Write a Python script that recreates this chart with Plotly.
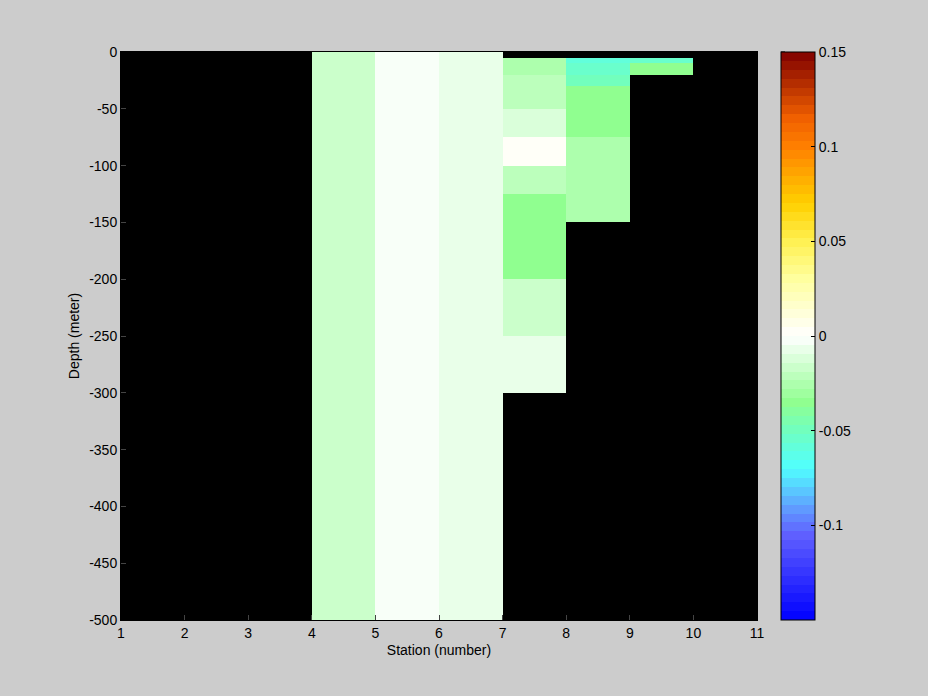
import numpy as np
import plotly.graph_objects as go

# Station edges (x) and depth edges (y, meters)
station_edges = [1, 2, 3, 4, 5, 6, 7, 8, 9, 10, 11]
depth_edges = [0, -5, -10, -20, -30, -50, -75, -100, -125, -150, -200, -250, -300, -400, -500]

N = None
# Values per station column (cells between consecutive station edges), top to bottom
col_1_2 = [N] * 14
col_2_3 = [N] * 14
col_3_4 = [N] * 14
col_4_5 = [-0.015] * 14
col_5_6 = [-0.003] * 14
col_6_7 = [-0.0068] * 14
col_7_8 = [N, -0.028, -0.025, -0.02, -0.02, -0.011, 0.003, -0.02, -0.034, -0.034, -0.015, -0.006, N, N]
col_8_9 = [N, -0.059, -0.054, -0.048, -0.037, -0.037, -0.024, -0.024, -0.024, N, N, N, N, N]
col_9_10 = [N, -0.052, -0.037, N, N, N, N, N, N, N, N, N, N, N]
col_10_11 = [N] * 14

columns = [col_1_2, col_2_3, col_3_4, col_4_5, col_5_6, col_6_7, col_7_8, col_8_9, col_9_10, col_10_11]

depth_ticks = list(range(-500, 1, 50))
depth_ticktext = [str(v) for v in depth_ticks]
station_ticktext = [str(v) for v in station_edges]
cbar_ticks = [-0.1, -0.05, 0, 0.05, 0.1, 0.15]
cbar_ticktext = ["-0.1", "-0.05", "0", "0.05", "0.1", "0.15"]
zmin, zmax = -0.15, 0.15

z = np.array([[np.nan if v is None else v for v in col] for col in columns], dtype=float).T

# Colormap anchors (normalized position, hex)
anchors = [
    (0.0, "#0000ff"), (0.15, "#6060ff"), (0.20, "#60a0ff"), (0.267, "#50ffff"),
    (0.333, "#70ffc0"), (0.383, "#90ff90"), (0.5, "#ffffff"), (0.6, "#ffffa0"),
    (0.667, "#fff050"), (0.733, "#ffd000"), (0.833, "#ff8000"), (0.883, "#f06000"),
    (1.0, "#800000"),
]

def hex2rgb(h):
    h = h.lstrip("#")
    return [int(h[i:i + 2], 16) for i in (0, 2, 4)]

pos = [a[0] for a in anchors]
rgbs = np.array([hex2rgb(a[1]) for a in anchors], dtype=float)

def cmap(t):
    return [float(np.interp(t, pos, rgbs[:, k])) for k in range(3)]

n = 64
colorscale = []
for i in range(n):
    r, g, b = cmap((i + 0.5) / n)
    c = f"rgb({round(r)},{round(g)},{round(b)})"
    colorscale.append([i / n, c])
    colorscale.append([(i + 1) / n, c])

font = dict(family="Liberation Sans, Arial, sans-serif", size=14, color="black")

cb_x0 = (781 - 121) / 636
fig = go.Figure(go.Heatmap(
    x=station_edges, y=depth_edges, z=z,
    zmin=zmin, zmax=zmax, zsmooth=False,
    colorscale=colorscale,
    colorbar=dict(
        x=cb_x0, xanchor="left", xpad=0, ypad=0,
        y=0.5, yanchor="middle", len=1, lenmode="fraction",
        thickness=34, thicknessmode="pixels",
        outlinecolor="black", outlinewidth=1,
        tickvals=cbar_ticks, ticktext=cbar_ticktext,
        ticks="inside", ticklen=4, tickcolor="black",
        tickfont=font, bgcolor="rgba(0,0,0,0)",
    ),
    hoverinfo="skip",
))

# left-edge ticks on the colorbar (MATLAB style)
shapes = []
for v in cbar_ticks:
    yp = (v - zmin) / (zmax - zmin)
    shapes.append(dict(type="line", xref="paper", yref="paper",
                       x0=cb_x0, x1=cb_x0 + 4 / 636, y0=yp, y1=yp,
                       line=dict(color="black", width=1)))

fig.update_layout(
    width=928, height=696,
    margin=dict(l=121, r=171, t=52, b=76),
    paper_bgcolor="#cccccc", plot_bgcolor="black",
    font=font,
    shapes=shapes,
    xaxis=dict(
        range=[1, 11], tickvals=station_edges, ticktext=station_ticktext,
        ticks="inside", ticklen=5,
        showgrid=False, zeroline=False, showline=True, linecolor="black",
        mirror=True, title=dict(text="Station (number)", standoff=5, font=font),
        tickfont=font,
    ),
    yaxis=dict(
        range=[-500, 0], tickvals=depth_ticks, ticktext=depth_ticktext,
        ticks="inside", ticklen=5,
        showgrid=False, zeroline=False, showline=True, linecolor="black",
        mirror=True, title=dict(text="Depth (meter)", standoff=6, font=font),
        tickfont=font,
    ),
)

fig.write_html("out.html", config={"displayModeBar": False})

# remove default page margin so the figure sits at the window origin
with open("out.html", encoding="utf-8") as f:
    html = f.read()
html = html.replace("<head>", "<head><style>html,body{margin:0;padding:0;background:#cccccc;}</style>", 1)
with open("out.html", "w", encoding="utf-8") as f:
    f.write(html)
